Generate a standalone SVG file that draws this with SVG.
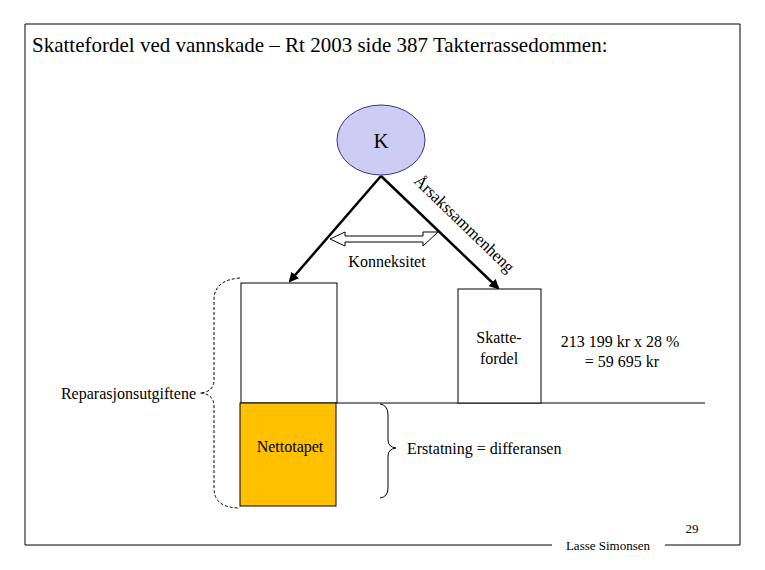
<svg xmlns="http://www.w3.org/2000/svg" width="765" height="570" viewBox="0 0 765 570">
<style>
text{font-family:"Liberation Serif",serif;fill:#000}
.ln{stroke:#000;stroke-width:1;fill:none}
.ar{stroke:#000;stroke-width:2.5;fill:none;marker-end:url(#ah)}
</style>
<defs>
<marker id="ah" viewBox="0 0 10 10" refX="8" refY="5" markerWidth="4" markerHeight="4" orient="auto"><path d="M0,0L10,5L0,10z" fill="#000"/></marker>
</defs>
<rect width="765" height="570" fill="#fff"/>
<path class="ln" d="M552,545H25V24H740V545H665"/>
<text x="32" y="52" font-size="21">Skattefordel ved vannskade – Rt 2003 side 387 Takterrassedommen:</text>
<g id="connectors">
<line class="ar" x1="381" y1="176" x2="290" y2="281"/>
<line class="ar" x1="381" y1="176" x2="498" y2="288"/>
<path d="M330,239L345,232V236H423V232H438L423,246V242H345V246Z" fill="#fff" stroke="#000" stroke-width="1"/>
<line class="ln" x1="337" y1="403" x2="705" y2="403"/>
<path d="M240,278Q214,280 214,300V380Q214,392 200,393Q214,394 214,406V488Q214,508 240,508" class="ln" stroke-dasharray="3,2"/>
<path d="M380,404Q388,405 388,415V440Q388,447 396,448Q388,449 388,456V488Q388,497 380,498" class="ln"/>
</g>
<g id="K"><ellipse cx="381" cy="140" rx="44" ry="35" fill="#CCCCF5" stroke="#333388"/><text x="381" y="148" font-size="21" text-anchor="middle">K</text></g>
<text x="413" y="182" font-size="17" transform="rotate(44 413 182)" textLength="132" lengthAdjust="spacingAndGlyphs">Årsakssammenheng</text>
<text x="387" y="267" font-size="16" text-anchor="middle">Konneksitet</text>
<g id="box1"><rect x="241" y="283" width="96" height="120" fill="#fff" stroke="#000"/></g>
<g id="netto"><rect x="240" y="403" width="96" height="103" fill="#FFC000" stroke="#000"/><text x="290" y="452" font-size="16" text-anchor="middle">Nettotapet</text></g>
<g id="skatt"><rect x="458" y="289" width="83" height="114" fill="#fff" stroke="#000"/><text x="499" y="343" font-size="16" text-anchor="middle">Skatte-</text><text x="499" y="364" font-size="16" text-anchor="middle">fordel</text></g>
<text x="620" y="347" font-size="16" text-anchor="middle">213 199 kr x 28 %</text>
<text x="622" y="367" font-size="16" text-anchor="middle">= 59 695 kr</text>
<text x="196" y="399" font-size="16" text-anchor="end">Reparasjonsutgiftene</text>
<text x="407" y="454" font-size="16">Erstatning = differansen</text>
<text x="608" y="550" font-size="13" text-anchor="middle">Lasse Simonsen</text>
<text x="692" y="533" font-size="13" text-anchor="middle">29</text>
</svg>
